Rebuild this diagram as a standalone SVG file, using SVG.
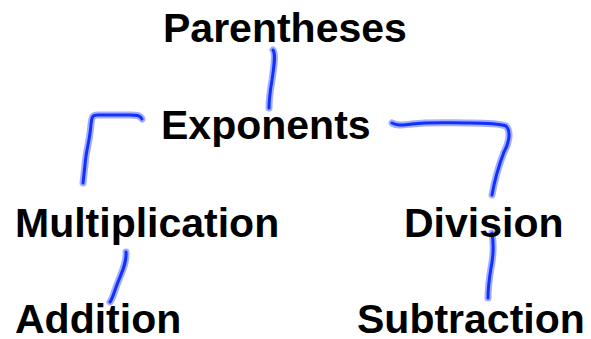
<svg xmlns="http://www.w3.org/2000/svg" width="591" height="339" viewBox="0 0 591 339">
<style>
text{font-family:"Liberation Sans",Arial,sans-serif;font-weight:bold;font-size:41px;fill:#000}
.halo{fill:none;stroke:#5a6bff;stroke-opacity:0.55;stroke-width:7;stroke-linecap:round;stroke-linejoin:round}
.ink{fill:none;stroke:#1030ff;stroke-width:3;stroke-linecap:round;stroke-linejoin:round}
</style>
<rect width="591" height="339" fill="#fff"/>
<g id="connectors">
<path id="c1" class="halo" d="M273,50 C276,54 274,66 272,80 C270,92 269,100 269,108"/>
<path class="ink" d="M273,50 C276,54 274,66 272,80 C270,92 269,100 269,108"/>
<path id="c2" class="halo" d="M142,119 C140,115 136,115 130,115 L98,115 C92,115 92,117 91,124 C90,140 86,150 85,165 L83,183"/>
<path class="ink" d="M142,119 C140,115 136,115 130,115 L98,115 C92,115 92,117 91,124 C90,140 86,150 85,165 L83,183"/>
<path id="c3" class="halo" d="M392,123 C398,126 402,125 412,124 C430,122 445,123 470,123 C490,123 500,124 506,126 C512,132 508,145 504,152 C499,165 495,178 492,195"/>
<path class="ink" d="M392,123 C398,126 402,125 412,124 C430,122 445,123 470,123 C490,123 500,124 506,126 C512,132 508,145 504,152 C499,165 495,178 492,195"/>
<path id="c4" class="halo" d="M126,252 C127,262 122,272 118,282 C114,292 113,298 110,302"/>
<path class="ink" d="M126,252 C127,262 122,272 118,282 C114,292 113,298 110,302"/>
<path id="c5" class="halo" d="M492,233 C494,245 493,258 491,268 C489,280 488,290 488,298"/>
<path class="ink" d="M492,233 C494,245 493,258 491,268 C489,280 488,290 488,298"/>
</g>
<g id="parentheses"><text x="163" y="42">Parentheses</text></g>
<g id="exponents"><text x="161" y="139">Exponents</text></g>
<g id="multiplication"><text x="15" y="236.5">Multiplication</text></g>
<g id="division"><text x="404" y="236.5">Division</text></g>
<g id="addition"><text x="15" y="333">Addition</text></g>
<g id="subtraction"><text x="357" y="333">Subtraction</text></g>
</svg>
